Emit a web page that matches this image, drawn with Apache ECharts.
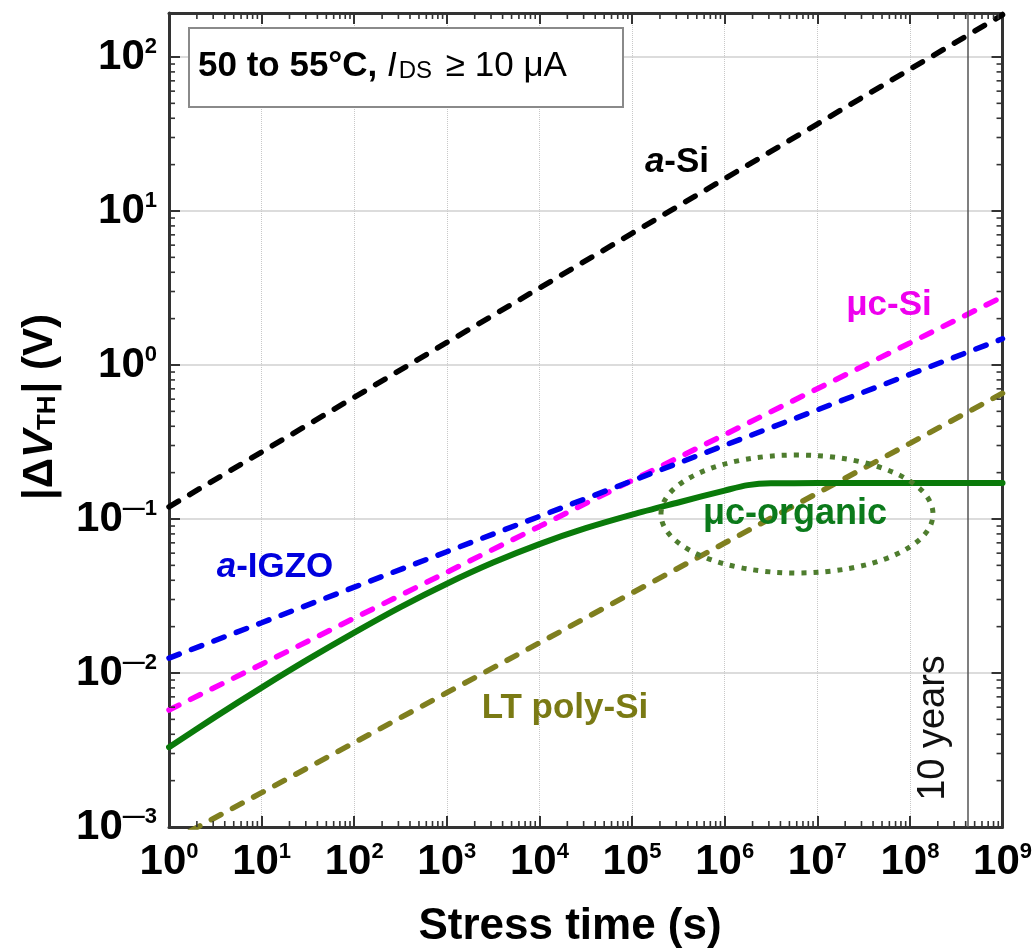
<!DOCTYPE html>
<html>
<head>
<meta charset="utf-8">
<script src="https://cdn.jsdelivr.net/npm/echarts@6/dist/echarts.min.js"></script>
<style>
html,body{margin:0;padding:0;background:#fff;}
#chart{width:1035px;height:950px;}
</style>
</head>
<body>
<div id="chart"></div>
<script>
// ---- data ----
const stressTime = [1, 1e1, 1e2, 1e3, 1e4, 1e5, 1e6, 1e7, 1e8, 1e9];          // s
const aSi      = [0.120, 0.272, 0.617, 1.40, 3.16, 7.16, 16.2, 36.7, 83.2, 188];  // V
const aIGZO    = [0.0125, 0.0212, 0.0361, 0.0613, 0.104, 0.177, 0.301, 0.511, 0.869, 1.48];
const ucSi     = [0.00575, 0.0114, 0.0227, 0.0451, 0.0895, 0.178, 0.353, 0.701, 1.39, 2.77];
const ltPolySi = [0.000794, 0.00167, 0.00353, 0.00745, 0.0157, 0.0331, 0.0698, 0.147, 0.310, 0.655];
const organicTime = [1, 3.16, 10, 31.6, 100, 316, 1e3, 3.16e3, 1e4, 3.16e4, 1e5, 3.16e5, 1e6, 1.78e6, 3.16e6, 1e7, 1e8, 1e9];
const ucOrganic   = [0.0033, 0.00519, 0.00804, 0.01225, 0.0183, 0.0268, 0.0380, 0.0521, 0.0687, 0.0871, 0.1067, 0.128, 0.153, 0.166, 0.1706, 0.171, 0.171, 0.171];
const tenYears = 4.2e8;             // s, position of the "10 years" marker
const xTickExponents = [0, 1, 2, 3, 4, 5, 6, 7, 8, 9];
const yTickExponents = [-3, -2, -1, 0, 1, 2];
const yMaxValue = 193;              // top of the plot box (V)

// ---- helpers ----
const FONT = '"Liberation Sans", Arial, Helvetica, sans-serif';
const L = Math.log10;
const xMin = xTickExponents[0], xMax = xTickExponents[xTickExponents.length - 1];
const yMin = yTickExponents[0], yMax = L(yMaxValue);
const pairs = (ts, vs) => ts.map((t, i) => [L(t), L(vs[i])]);

const minorX = [];
for (let k = xMin; k < xMax; k++) for (let m = 2; m <= 9; m++) minorX.push(k + L(m));
const minorY = [];
for (let k = yMin; k <= Math.floor(yMax); k++) for (let m = 2; m <= 9; m++) { const v = k + L(m); if (v < yMax) minorY.push(v); }

const richNum = {
  b: { fontSize: 42, fontWeight: 'bold', fontFamily: FONT, color: '#000' },
  s: { fontSize: 22, fontWeight: 'bold', fontFamily: FONT, color: '#000', verticalAlign: 'top' }
};
const expLabel = v => {
  if (Math.abs(v - Math.round(v)) > 1e-9) return '';
  const n = Math.round(v);
  return '{b|10}{s|' + (n < 0 ? '\u2014' + (-n) : n) + '}';
};

const dashed = (color) => ({ color: color, width: 5.5, type: [11, 13], cap: 'round' });

const chart = echarts.init(document.getElementById('chart'), null, { renderer: 'canvas' });
const option = {
  animation: false,
  backgroundColor: '#fff',
  grid: { left: 169, top: 13, width: 834, height: 814, containLabel: false },
  xAxis: [
    {
      type: 'value', min: xMin, max: xMax, interval: 1, position: 'bottom',
      axisLine: { show: true, onZero: false, lineStyle: { color: '#333', width: 3 } },
      axisTick: { show: true, inside: true, length: 11, lineStyle: { color: '#333', width: 2 } },
      axisLabel: { show: true, formatter: expLabel, rich: richNum, margin: 14, color: '#000' },
      splitLine: { show: true, lineStyle: { color: '#c8c8c8', width: 1, type: 'dotted' } }
    },
    {
      type: 'value', min: xMin, max: xMax, interval: 1, position: 'top',
      axisLine: { show: true, onZero: false, lineStyle: { color: '#333', width: 3 } },
      axisTick: { show: true, inside: true, length: 11, lineStyle: { color: '#333', width: 2 } },
      axisLabel: { show: false },
      splitLine: { show: false }
    }
  ],
  yAxis: [
    {
      type: 'value', min: yMin, max: yMax, interval: 1, position: 'left',
      axisLine: { show: true, onZero: false, lineStyle: { color: '#333', width: 3 } },
      axisTick: { show: true, inside: true, length: 11, lineStyle: { color: '#333', width: 2 } },
      axisLabel: { show: true, formatter: expLabel, rich: richNum, margin: 12, color: '#000', showMaxLabel: false },
      splitLine: { show: true, lineStyle: { color: '#d0d0d0', width: 1.5, type: 'solid' } }
    },
    {
      type: 'value', min: yMin, max: yMax, interval: 1, position: 'right',
      axisLine: { show: true, onZero: false, lineStyle: { color: '#333', width: 3 } },
      axisTick: { show: true, inside: true, length: 11, lineStyle: { color: '#333', width: 2 } },
      axisLabel: { show: false },
      splitLine: { show: false }
    }
  ],
  series: [
    {
      name: 'LT poly-Si', type: 'line', data: pairs(stressTime, ltPolySi), showSymbol: false, symbol: 'none',
      lineStyle: dashed('#7f7f1f'), clip: true, z: 3
    },
    {
      name: 'a-Si', type: 'line', data: pairs(stressTime, aSi), showSymbol: false, symbol: 'none',
      lineStyle: dashed('#000000'), clip: true, z: 3,
      markLine: {
        silent: true, symbol: 'none', label: { show: false },
        lineStyle: { color: '#555', width: 1.5, type: 'solid' },
        data: [{ xAxis: L(tenYears) }]
      }
    },
    {
      name: 'μc-Si', type: 'line', data: pairs(stressTime, ucSi), showSymbol: false, symbol: 'none',
      lineStyle: dashed('#ff00ff'), clip: true, z: 3
    },
    {
      name: 'a-IGZO', type: 'line', data: pairs(stressTime, aIGZO), showSymbol: false, symbol: 'none',
      lineStyle: dashed('#0000ee'), clip: true, z: 4
    },
    {
      name: 'μc-organic', type: 'line', data: pairs(organicTime, ucOrganic), showSymbol: false, symbol: 'none',
      smooth: 0.3,
      lineStyle: { color: '#0a7a0a', width: 6, type: 'solid', cap: 'round' }, clip: true, z: 5
    },
    {
      name: 'minorTicks', type: 'custom', coordinateSystem: 'cartesian2d', silent: true, clip: false, z: 6,
      data: [[xMin, yMin]],
      renderItem: function (params, api) {
        const cs = params.coordSys;
        const left = cs.x, right = cs.x + cs.width, top = cs.y, bottom = cs.y + cs.height;
        const st = { stroke: '#333', lineWidth: 1.6 };
        const ch = [];
        minorX.forEach(v => {
          const px = api.coord([v, yMin])[0];
          ch.push({ type: 'line', shape: { x1: px, y1: bottom, x2: px, y2: bottom - 6 }, style: st });
          ch.push({ type: 'line', shape: { x1: px, y1: top, x2: px, y2: top + 6 }, style: st });
        });
        minorY.forEach(v => {
          const py = api.coord([xMin, v])[1];
          ch.push({ type: 'line', shape: { x1: left, y1: py, x2: left + 6, y2: py }, style: st });
          ch.push({ type: 'line', shape: { x1: right, y1: py, x2: right - 6, y2: py }, style: st });
        });
        return { type: 'group', children: ch };
      }
    }
  ],
  graphic: [
    // condition box
    { type: 'rect', shape: { x: 189, y: 28, width: 434, height: 79 }, style: { fill: '#fff', stroke: '#8a8a8a', lineWidth: 2 }, z: 50 },
    {
      type: 'text', x: 198, y: 66, z: 51,
      style: {
        text: '{b|50 to 55°C, }{i|I}{sub|DS}{r| ≥ 10 μA}',
        verticalAlign: 'middle', align: 'left',
        rich: {
          b: { fontSize: 35, fontWeight: 'bold', fontFamily: FONT, fill: '#000' },
          i: { fontSize: 35, fontStyle: 'italic', fontFamily: FONT, fill: '#000' },
          sub: { fontSize: 24, fontFamily: FONT, fill: '#000', verticalAlign: 'bottom', padding: [0, 4, 0, 2] },
          r: { fontSize: 35, fontFamily: FONT, fill: '#000' }
        }
      }
    },
    // series labels
    {
      type: 'text', x: 677, y: 162, z: 60,
      style: { text: '{i|a}{n|-Si}', align: 'center', verticalAlign: 'middle',
        rich: { i: { fontSize: 35, fontWeight: 'bold', fontStyle: 'italic', fontFamily: FONT, fill: '#000' },
                n: { fontSize: 35, fontWeight: 'bold', fontFamily: FONT, fill: '#000' } } }
    },
    {
      type: 'text', x: 889, y: 305, z: 60,
      style: { text: 'μc-Si', align: 'center', verticalAlign: 'middle', fontSize: 35, fontWeight: 'bold', fontFamily: FONT, fill: '#ee00ee' }
    },
    {
      type: 'text', x: 275, y: 567, z: 60,
      style: { text: '{i|a}{n|-IGZO}', align: 'center', verticalAlign: 'middle',
        rich: { i: { fontSize: 35, fontWeight: 'bold', fontStyle: 'italic', fontFamily: FONT, fill: '#0000dd' },
                n: { fontSize: 35, fontWeight: 'bold', fontFamily: FONT, fill: '#0000dd' } } }
    },
    {
      type: 'text', x: 565, y: 708, z: 60,
      style: { text: 'LT poly-Si', align: 'center', verticalAlign: 'middle', fontSize: 35, fontWeight: 'bold', fontFamily: FONT, fill: '#7a7a14' }
    },
    {
      type: 'text', x: 795, y: 514, z: 60,
      style: { text: 'μc-organic', align: 'center', verticalAlign: 'middle', fontSize: 36, fontWeight: 'bold', fontFamily: FONT, fill: '#0b7a1b' }
    },
    // dotted ellipse around μc-organic
    { type: 'ellipse', shape: { cx: 797, cy: 514, rx: 136, ry: 59 }, style: { fill: 'none', stroke: '#4e7d2e', lineWidth: 5, lineDash: [5, 7] }, z: 61 },
    // 10 years
    {
      type: 'text', x: 934, y: 728, rotation: Math.PI / 2, z: 60,
      style: { text: '10 years', align: 'center', verticalAlign: 'middle', fontSize: 38, fontFamily: FONT, fill: '#111' }
    },
    // axis titles
    {
      type: 'text', x: 570, y: 927, z: 60,
      style: { text: 'Stress time (s)', align: 'center', verticalAlign: 'middle', fontSize: 44, fontWeight: 'bold', fontFamily: FONT, fill: '#000' }
    },
    {
      type: 'text', x: 40, y: 407, rotation: Math.PI / 2, z: 60,
      style: {
        text: '{n||Δ}{i|V}{sub|TH}{n|| (V)}', align: 'center', verticalAlign: 'middle',
        rich: {
          n: { fontSize: 42, fontWeight: 'bold', fontFamily: FONT, fill: '#000' },
          i: { fontSize: 42, fontWeight: 'bold', fontStyle: 'italic', fontFamily: FONT, fill: '#000' },
          sub: { fontSize: 26, fontWeight: 'bold', fontFamily: FONT, fill: '#000', verticalAlign: 'bottom', padding: [0, 2, 0, 0] }
        }
      }
    }
  ]
};
chart.setOption(option);
</script>
</body>
</html>
